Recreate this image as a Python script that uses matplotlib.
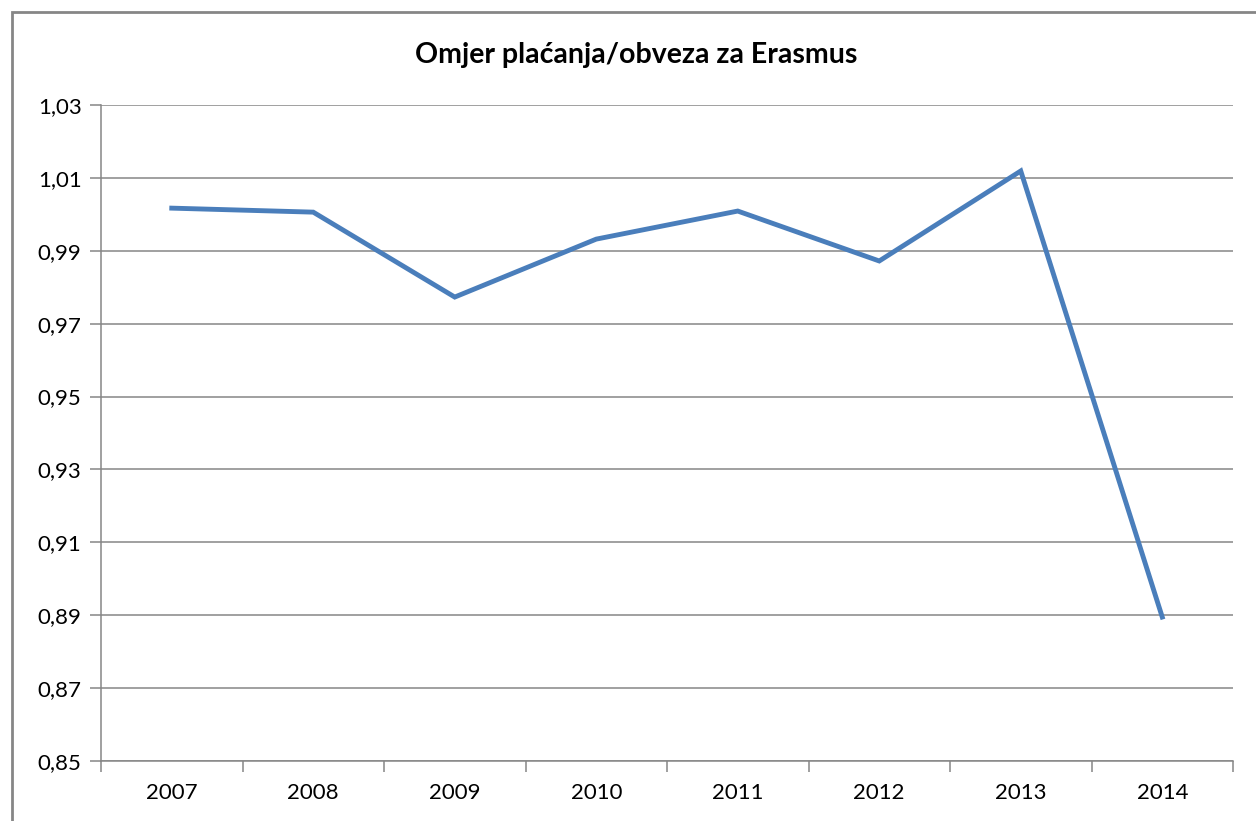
import matplotlib.pyplot as plt
from matplotlib.patches import Rectangle
from matplotlib.ticker import FixedLocator, FuncFormatter

years = ["2007", "2008", "2009", "2010", "2011", "2012", "2013", "2014"]
ratio = [1.0017, 1.0006, 0.9773, 0.9932, 1.0009, 0.9872, 1.0119, 0.8895]
y_ticks = [0.85, 0.87, 0.89, 0.91, 0.93, 0.95, 0.97, 0.99, 1.01, 1.03]

plt.rcParams['font.family'] = ['Lato', 'DejaVu Sans']

W, H = 1256, 821
fig = plt.figure(figsize=(W / 100, H / 100), dpi=100)

# outer chart frame (runs off the right and bottom edge)
fig.patches.append(Rectangle((12 / W, -0.05), 1.1, 1.05 - 12 / H,
                             transform=fig.transFigure, fill=False,
                             edgecolor="#868686", linewidth=2))

left, right, top, bottom = 101, 1233, 105, 761
ax = fig.add_axes([left / W, 1 - bottom / H, (right - left) / W, (bottom - top) / H])

x = list(range(len(years)))
ax.plot(x, ratio, color="#4A7EBB", linewidth=3.5, solid_joinstyle="miter")

ax.set_xlim(-0.5, len(years) - 0.5)
ax.set_ylim(0.85, 1.03)
ax.set_yticks(y_ticks)
ax.yaxis.set_major_formatter(FuncFormatter(lambda v, p: f"{v:.2f}".replace(".", ",")))
ax.yaxis.grid(True, color="#868686", linewidth=1.1)
ax.set_axisbelow(True)

ax.set_xticks(x)
ax.set_xticklabels(years)
ax.xaxis.set_minor_locator(FixedLocator([i - 0.5 for i in range(len(years) + 1)]))
ax.tick_params(axis="x", which="major", length=0, pad=16, labelsize=16)
ax.tick_params(axis="x", which="minor", length=8, width=1.1, color="#868686", direction="out")
ax.tick_params(axis="y", length=8, width=1.1, color="#868686", pad=6, labelsize=16)

for s in ["top", "right"]:
    ax.spines[s].set_visible(False)
for s in ["left", "bottom"]:
    ax.spines[s].set_color("#868686")
    ax.spines[s].set_linewidth(1.1)

fig.text(636 / W, 1 - 55 / H, "Omjer plaćanja/obveza za Erasmus", ha="center", va="center",
         fontsize=20.5, fontweight="bold")

fig.savefig("out.png", dpi=100)
